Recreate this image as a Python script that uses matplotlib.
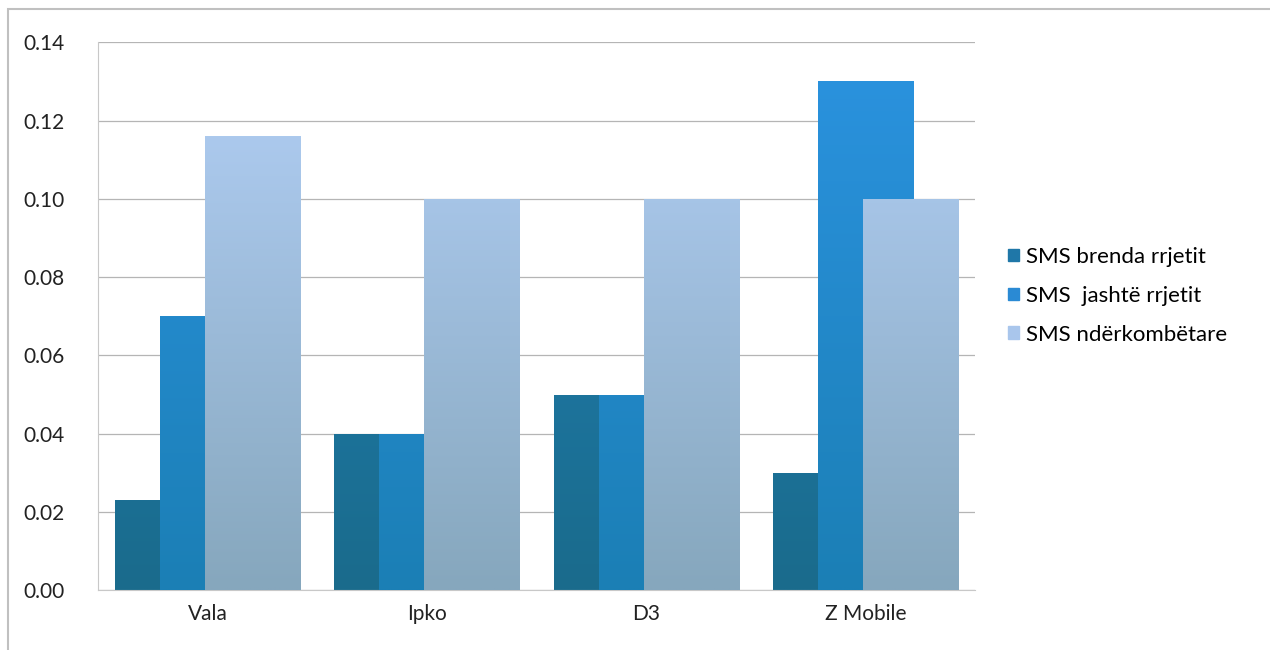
import numpy as np
import matplotlib
matplotlib.use('Agg')
import matplotlib.pyplot as plt
from matplotlib.colors import LinearSegmentedColormap
from matplotlib.patches import Rectangle

categories = ['Vala', 'Ipko', 'D3', 'Z Mobile']
series_names = ['SMS brenda rrjetit', 'SMS  jashtë rrjetit', 'SMS ndërkombëtare']
brenda = [0.023, 0.040, 0.050, 0.030]
jashte = [0.070, 0.040, 0.050, 0.130]
nderkomb = [0.116, 0.100, 0.100, 0.100]
y_ticks = [0.00, 0.02, 0.04, 0.06, 0.08, 0.10, 0.12, 0.14]

# (top colour, bottom colour) for each series
grad_colors = [('#2182b8', '#1a6b8c'), ('#2b93e0', '#1b7fb5'), ('#b3d0f7', '#86a7bd')]
legend_colors = ['#1f77a8', '#2a8ad4', '#a9c6ec']

plt.rcParams['font.family'] = ['Lato', 'DejaVu Sans']

fig = plt.figure(figsize=(12.7, 6.5), dpi=100)
ax = fig.add_axes([0.077, 0.092, 0.691, 0.843])

x = np.arange(len(categories))
width = 0.434
offset = 0.205
data = [brenda, jashte, nderkomb]

handles = []
for i, vals in enumerate(data):
    pos = x + (i - 1) * offset
    bars = ax.bar(pos, vals, width, color='none', edgecolor='none', zorder=2 + i)
    cmap = LinearSegmentedColormap.from_list('g%d' % i, [grad_colors[i][1], grad_colors[i][0]])
    for b in bars:
        x0, y0 = b.get_x(), b.get_y()
        w, h = b.get_width(), b.get_height()
        grad = np.linspace(0, 1, 256).reshape(-1, 1) * (h / 0.14)
        im = ax.imshow(grad, cmap=cmap, vmin=0, vmax=1, aspect='auto', origin='lower',
                       extent=[x0, x0 + w, y0, y0 + h], zorder=2 + i)
        im.set_clip_path(b)
    handles.append(Rectangle((0, 0), 1, 1, color=legend_colors[i]))

ax.set_xlim(-0.5, len(categories) - 0.5)
ax.set_ylim(0, 0.14)
ax.set_yticks(y_ticks)
ax.set_yticklabels(['%.2f' % v for v in y_ticks])
ax.set_xticks(x)
ax.set_xticklabels(categories)
ax.tick_params(axis='both', length=0, labelsize=15, colors='#222222')
ax.tick_params(axis='y', pad=24)
ax.tick_params(axis='x', pad=10)
ax.grid(axis='y', color='#b5b5b5', linewidth=0.9, zorder=0)
ax.set_axisbelow(True)
for s in ['top', 'right']:
    ax.spines[s].set_visible(False)
ax.spines['left'].set_color('#c8c8c8')
ax.spines['bottom'].set_color('#c8c8c8')

fig.legend(handles, series_names, loc='center left', bbox_to_anchor=(0.778, 0.545),
           frameon=False, fontsize=16, handlelength=0.5, handleheight=0.5,
           handletextpad=0.3, labelspacing=0.85)

fig.patches.append(Rectangle((0.006, -0.01), 1.1, 0.996, transform=fig.transFigure,
                             fill=False, edgecolor='#c0c0c0', linewidth=1.5))

fig.savefig('out.png', dpi=100)
